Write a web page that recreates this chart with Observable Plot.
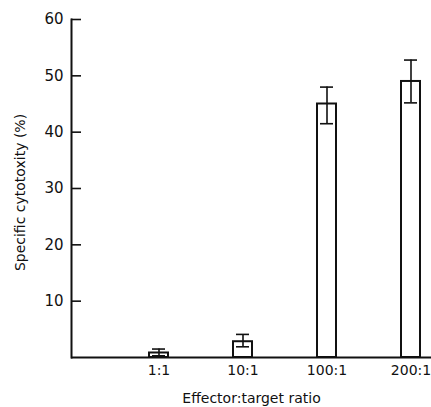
<!DOCTYPE html>
<html><head><meta charset="utf-8">
<script src="https://cdn.jsdelivr.net/npm/d3@7"></script>
<script src="https://cdn.jsdelivr.net/npm/@observablehq/plot@0.6"></script>
<style>body{margin:0;background:#fff}</style>
</head><body><div id="chart"></div>
<script>
const ratios = ["1:1", "10:1", "100:1", "200:1"];
const means = [0.8, 2.8, 45, 49];
const errLow = [0.3, 1.9, 41.5, 45.2];
const errHigh = [1.5, 4.1, 48, 52.8];
const yTicks = [10, 20, 30, 40, 50, 60];
const yTitle = "Specific cytotoxity (%)";
const xTitle = "Effector:target ratio";

const data = ratios.map((r, i) => ({ratio: r, mean: means[i], lo: errLow[i], hi: errHigh[i]}));

const chart = Plot.plot({
  width: 431,
  height: 407,
  marginLeft: 71,
  marginRight: 0,
  marginTop: 19,
  marginBottom: 50,
  style: {fontFamily: "DejaVu Sans", fontSize: "14px", color: "#111", background: "#fff"},
  x: {domain: ratios, range: [147.5, 420.5], paddingInner: 0.776, paddingOuter: 0},
  y: {domain: [0, 60]},
  marks: [
    Plot.barY(data, {x: "ratio", y: "mean", fill: "white", stroke: "#111", strokeWidth: 2}),
    Plot.ruleX(data, {x: "ratio", y1: "lo", y2: "hi", stroke: "#111", strokeWidth: 1.6}),
    Plot.tickY(data, {x: "ratio", y: "hi", stroke: "#111", strokeWidth: 1.6, inset: 3}),
    Plot.tickY(data, {x: "ratio", y: "lo", stroke: "#111", strokeWidth: 1.6, inset: 3}),
    Plot.axisY({ticks: yTicks, tickSize: -10, tickPadding: 18, strokeWidth: 1.6, fontSize: 15, label: null}),
    Plot.axisX({tickSize: 0, tickPadding: 8, fontSize: 14, label: null}),
    Plot.text([yTitle], {frameAnchor: "left", textAnchor: "middle", lineAnchor: "middle", rotate: -90, dx: -51, dy: 4, fontSize: 14, fill: "#111"}),
    Plot.text([xTitle], {frameAnchor: "bottom", lineAnchor: "middle", dy: 41, fontSize: 14, fill: "#111"}),
    Plot.frame({anchor: "left", strokeWidth: 2}),
    Plot.ruleY([0], {strokeWidth: 2})
  ]
});
document.getElementById("chart").appendChild(chart);
</script>
</body></html>
